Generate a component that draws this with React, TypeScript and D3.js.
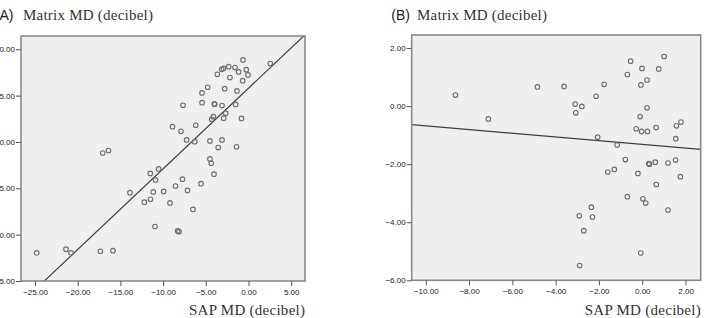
import { useEffect, useRef } from "react";
import * as d3 from "d3";

// Panel A: SAP MD vs Matrix MD (dB)
const sapA = [
  -0.64, 2.55, -2.32, -1.58, -3.14, -2.93, -0.26, -1.15, -0.06, -3.65, -2.17, -0.68,
  -4.78, -2.79, -5.44, -1.35, -7.67, -5.44, -4.0, -3.95, -3.1, -1.5, -2.67, -4.12,
  -4.31, -2.9, -0.82, -8.9, -7.9, -6.18, -7.24, -6.3, -4.51, -3.1, -3.54, -1.4,
  -17.07, -16.39, -4.51, -4.36, -4.04, -10.52, -11.5, -10.89, -7.73, -8.55, -5.56,
  -13.88, -11.15, -9.93, -7.14, -12.2, -11.48, -9.19, -6.5, -10.95, -8.29, -8.14,
  -24.8, -21.37, -20.78, -17.35, -15.87,
];
const matrixA = [
  -1.15, -1.55, -1.88, -1.98, -2.16, -2.07, -2.2, -2.45, -2.77, -2.7, -3.06, -3.39,
  -4.1, -4.25, -4.71, -4.5, -6.04, -5.76, -5.9, -5.93, -6.08, -5.95, -6.9, -7.27,
  -7.55, -7.44, -7.46, -8.35, -8.85, -8.2, -9.78, -9.97, -9.89, -9.78, -10.61, -10.52,
  -11.19, -10.92, -11.83, -12.3, -13.48, -12.91, -13.4, -14.1, -14.02, -14.75, -14.5,
  -15.47, -15.39, -15.34, -15.23, -16.5, -16.18, -16.58, -17.28, -19.12, -19.6, -19.68,
  -21.97, -21.57, -21.97, -21.79, -21.73,
];
const fitA = { slope: 0.87, intercept: -4.2 };

// Panel B
const sapB = [
  -8.63, -4.84, -3.61, -1.76, -2.13, -3.1, -2.79, -3.07, -0.54, 1.01, -0.01, 0.76,
  -0.69, 0.22, -0.06, 0.22, -0.1, -0.28, -0.03, 0.24, 0.64, 1.58, 1.79, 1.55,
  -2.06, -1.16, -7.11, -0.78, -1.59, -1.29, -0.2, 0.3, 0.33, 0.6, 1.19, 1.54,
  1.76, 0.65, -0.69, 0.03, 0.16, -2.35, 1.19, -2.91, -2.3, -2.7, -0.07, -2.89,
];
const matrixB = [
  0.38, 0.66, 0.68, 0.75, 0.34, 0.07, -0.01, -0.23, 1.55, 1.71, 1.3, 1.28,
  1.09, 0.9, 0.73, -0.06, -0.36, -0.78, -0.87, -0.87, -0.74, -0.68, -0.55, -1.12,
  -1.07, -1.34, -0.44, -1.84, -2.27, -2.18, -2.32, -1.98, -2.0, -1.93, -1.96, -1.86,
  -2.43, -2.7, -3.12, -3.19, -3.34, -3.48, -3.58, -3.78, -3.82, -4.29, -5.06, -5.49,
];
const fitB = { slope: -0.064, intercept: -1.32 };

const xTicksA = [-25, -20, -15, -10, -5, 0, 5];
const yTicksA = [0, -5, -10, -15, -20, -25];
const xTicksB = [-10, -8, -6, -4, -2, 0, 2];
const yTicksB = [2, 0, -2, -4, -6];

const W = 706;
const H = 318;

interface Panel {
  id: string;
  tag: string;
  xs: number[];
  ys: number[];
  fit: { slope: number; intercept: number };
  xDomain: [number, number];
  yDomain: [number, number];
  xTicks: number[];
  yTicks: number[];
  box: { x0: number; x1: number; y0: number; y1: number };
}

const panels: Panel[] = [
  {
    id: "a",
    tag: "(A)",
    xs: sapA,
    ys: matrixA,
    fit: fitA,
    xDomain: [-26.64, 6.62],
    yDomain: [-25, 1.43],
    xTicks: xTicksA,
    yTicks: yTicksA,
    box: { x0: 21, x1: 305, y0: 36, y1: 281 },
  },
  {
    id: "b",
    tag: "(B)",
    xs: sapB,
    ys: matrixB,
    fit: fitB,
    xDomain: [-10.65, 2.7],
    yDomain: [-6, 2.45],
    xTicks: xTicksB,
    yTicks: yTicksB,
    box: { x0: 411.7, x1: 700.7, y0: 35, y1: 280.3 },
  },
];

const SERIF = "'Liberation Serif', 'DejaVu Serif', serif";
const SANS = "'Liberation Sans', Arial, sans-serif";

export default function App() {
  const ref = useRef<SVGSVGElement | null>(null);

  useEffect(() => {
    if (!ref.current) return;
    const svg = d3.select(ref.current);
    svg.selectAll("*").remove();

    for (const p of panels) {
      const { x0, x1, y0, y1 } = p.box;
      const x = d3.scaleLinear().domain(p.xDomain).range([x0, x1]);
      const y = d3.scaleLinear().domain(p.yDomain).range([y1, y0]);
      const g = svg.append("g");

      g.append("defs")
        .append("clipPath")
        .attr("id", `clip-${p.id}`)
        .append("rect")
        .attr("x", x0)
        .attr("y", y0)
        .attr("width", x1 - x0)
        .attr("height", y1 - y0);

      g.append("rect")
        .attr("x", x0)
        .attr("y", y0)
        .attr("width", x1 - x0)
        .attr("height", y1 - y0)
        .attr("fill", "#efefef");

      // fit line, clipped to the plot area
      const line = d3
        .line<number>()
        .x((v) => x(v))
        .y((v) => y(p.fit.slope * v + p.fit.intercept));
      g.append("path")
        .attr("clip-path", `url(#clip-${p.id})`)
        .attr("d", line(p.xDomain))
        .attr("fill", "none")
        .attr("stroke", "#3f3f3f")
        .attr("stroke-width", 1.2);

      g.append("g")
        .selectAll("circle")
        .data(p.xs.map((v, i) => [v, p.ys[i]]))
        .join("circle")
        .attr("cx", (d) => x(d[0]))
        .attr("cy", (d) => y(d[1]))
        .attr("r", 2.3)
        .attr("fill", "none")
        .attr("stroke", "#6e6e6e")
        .attr("stroke-width", 1.1);

      g.append("rect")
        .attr("x", x0)
        .attr("y", y0)
        .attr("width", x1 - x0)
        .attr("height", y1 - y0)
        .attr("fill", "none")
        .attr("stroke", "#8a8a8a")
        .attr("stroke-width", 1.6);

      const fmt = d3.format(".2f");

      const xAxis = d3
        .axisBottom(x)
        .tickValues(p.xTicks)
        .tickSize(5)
        .tickPadding(3)
        .tickFormat((d) => fmt(d as number));
      const gx = g.append("g").attr("transform", `translate(0,${y1})`).call(xAxis);

      const yAxis = d3
        .axisLeft(y)
        .tickValues(p.yTicks)
        .tickSize(5)
        .tickPadding(1)
        .tickFormat((d) => fmt(d as number));
      const gy = g.append("g").attr("transform", `translate(${x0},0)`).call(yAxis);

      for (const ax of [gx, gy]) {
        ax.select(".domain").remove();
        ax.selectAll("line").attr("stroke", "#555").attr("stroke-width", 1);
        ax.selectAll("text")
          .attr("fill", "#222")
          .attr("font-family", SANS)
          .attr("font-size", 8);
      }

      // panel tag and axis titles
      g.append("text")
        .attr("x", p.id === "a" ? 13.5 : 410)
        .attr("y", 19.5)
        .attr("text-anchor", "end")
        .attr("font-family", SANS)
        .attr("font-size", 14)
        .attr("fill", "#222")
        .text(p.tag);

      g.append("text")
        .attr("x", p.id === "a" ? 23 : 417)
        .attr("y", 19.5)
        .attr("font-family", SERIF)
        .attr("font-size", 15)
        .attr("fill", "#333")
        .attr("textLength", 130)
        .attr("lengthAdjust", "spacing")
        .text("Matrix MD (decibel)");

      g.append("text")
        .attr("x", x1 - 116)
        .attr("y", 315)
        .attr("font-family", SERIF)
        .attr("font-size", 15)
        .attr("fill", "#333")
        .attr("textLength", 116)
        .attr("lengthAdjust", "spacing")
        .text("SAP MD (decibel)");
    }
  }, []);

  return (
    <svg
      ref={ref}
      width={W}
      height={H}
      style={{ position: "absolute", left: 0, top: 0, background: "#fff" }}
    />
  );
}
